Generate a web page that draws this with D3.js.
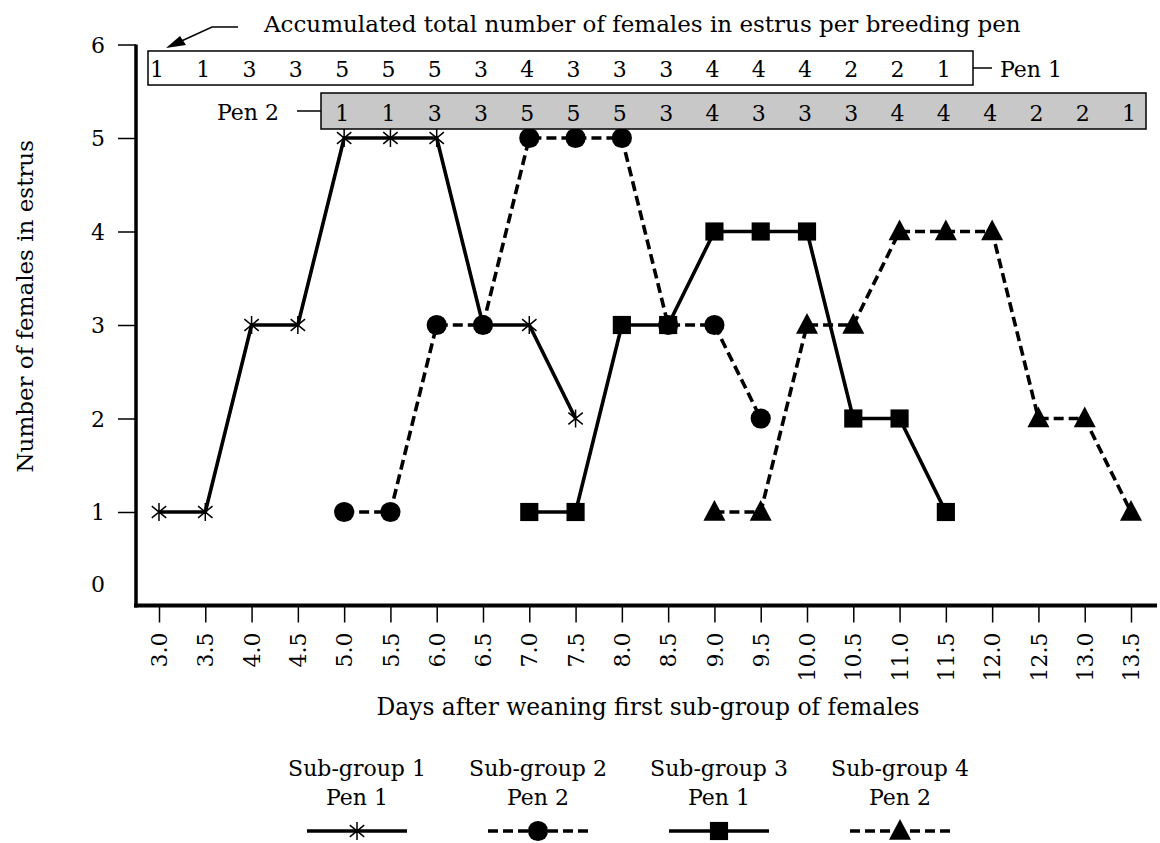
<!DOCTYPE html>
<html>
<head>
<meta charset="utf-8">
<script src="https://cdn.jsdelivr.net/npm/d3@7"></script>
<style>
  body { margin: 0; background: #fff; }
  svg { display: block; font-family: 'DejaVu Serif', serif; }
</style>
</head>
<body>
<svg id="chart" width="1160" height="843"></svg>
<script>
// days on the x axis
const days = [3.0, 3.5, 4.0, 4.5, 5.0, 5.5, 6.0, 6.5, 7.0, 7.5, 8.0, 8.5, 9.0, 9.5, 10.0, 10.5, 11.0, 11.5, 12.0, 12.5, 13.0, 13.5]
const yTicks = [0, 1, 2, 3, 4, 5, 6]

// females in estrus per sub-group
const sg1Days = [3.0, 3.5, 4.0, 4.5, 5.0, 5.5, 6.0, 6.5, 7.0, 7.5]
const sg1Values = [1, 1, 3, 3, 5, 5, 5, 3, 3, 2]
const sg2Days = [5.0, 5.5, 6.0, 6.5, 7.0, 7.5, 8.0, 8.5, 9.0, 9.5]
const sg2Values = [1, 1, 3, 3, 5, 5, 5, 3, 3, 2]
const sg3Days = [7.0, 7.5, 8.0, 8.5, 9.0, 9.5, 10.0, 10.5, 11.0, 11.5]
const sg3Values = [1, 1, 3, 3, 4, 4, 4, 2, 2, 1]
const sg4Days = [9.0, 9.5, 10.0, 10.5, 11.0, 11.5, 12.0, 12.5, 13.0, 13.5]
const sg4Values = [1, 1, 3, 3, 4, 4, 4, 2, 2, 1]

// accumulated totals per breeding pen
const pen1Days = [3.0, 3.5, 4.0, 4.5, 5.0, 5.5, 6.0, 6.5, 7.0, 7.5, 8.0, 8.5, 9.0, 9.5, 10.0, 10.5, 11.0, 11.5]
const pen1Totals = [1, 1, 3, 3, 5, 5, 5, 3, 4, 3, 3, 3, 4, 4, 4, 2, 2, 1]
const pen2Days = [5.0, 5.5, 6.0, 6.5, 7.0, 7.5, 8.0, 8.5, 9.0, 9.5, 10.0, 10.5, 11.0, 11.5, 12.0, 12.5, 13.0, 13.5]
const pen2Totals = [1, 1, 3, 3, 5, 5, 5, 3, 4, 3, 3, 3, 4, 4, 4, 2, 2, 1]

const legendTitles = ['Sub-group 1', 'Sub-group 2', 'Sub-group 3', 'Sub-group 4']
const legendPens = ['Pen 1', 'Pen 2', 'Pen 1', 'Pen 2']

const svg = d3.select('#chart')
const x = d3.scaleLinear().domain([3, 13.5]).range([159, 1131])
const y = d3.scaleLinear().domain([0, 6]).range([605.5, 44.5])
const fontSize = '22px'
const lineWidth = 3.6

// marker shapes
const star = {
  draw: (ctx, size) => {
    const r = Math.sqrt(size) / 2
    ctx.moveTo(0, -r)
    ctx.lineTo(0, r)
    ctx.moveTo(-r * 0.8, -r * 0.65)
    ctx.lineTo(r * 0.8, r * 0.65)
    ctx.moveTo(-r * 0.8, r * 0.65)
    ctx.lineTo(r * 0.8, -r * 0.65)
  }
}
const triangle = {
  draw: (ctx, size) => {
    const w = Math.sqrt(size) / 2
    ctx.moveTo(0, -w * 1.1)
    ctx.lineTo(w, w * 0.8)
    ctx.lineTo(-w, w * 0.8)
    ctx.closePath()
  }
}

const zip = (ds, vs) => ds.map((d, i) => ({ day: d, value: vs[i] }))
const series = [
  { points: zip(sg1Days, sg1Values), dash: null, type: star, size: 324, stroke: true },
  { points: zip(sg2Days, sg2Values), dash: '10,5', type: d3.symbolCircle, size: 320, stroke: false },
  { points: zip(sg3Days, sg3Values), dash: null, type: d3.symbolSquare, size: 330, stroke: false },
  { points: zip(sg4Days, sg4Values), dash: '10,5', type: triangle, size: 484, stroke: false }
]

// axes
const xAxis = svg.append('g')
  .attr('transform', `translate(0,${y(0)})`)
  .call(d3.axisBottom(x).tickValues(days).tickFormat(d3.format('.1f')).tickSize(17))
xAxis.select('.domain').remove()
xAxis.selectAll('.tick line').attr('stroke', '#000').attr('stroke-width', 1.5)
xAxis.selectAll('.tick text')
  .attr('transform', 'rotate(-90)')
  .attr('x', -27)
  .attr('y', 0)
  .attr('dy', '0.35em')
  .attr('text-anchor', 'end')
  .style('font-size', fontSize)
  .style('font-family', 'DejaVu Serif')
  .attr('fill', '#000')

const yAxis = svg.append('g')
  .attr('transform', 'translate(136,0)')
  .call(d3.axisLeft(y).tickValues(yTicks).tickFormat(d3.format('d')).tickSize(18).tickPadding(13))
yAxis.select('.domain').remove()
yAxis.selectAll('.tick line').attr('stroke', '#000').attr('stroke-width', 1.5)
  .filter(d => d === 0).remove()
yAxis.selectAll('.tick text')
  .style('font-size', fontSize)
  .style('font-family', 'DejaVu Serif')
  .attr('fill', '#000')
  .attr('dy', d => d === 0 ? '-0.65em' : '0.35em')

svg.append('line')
  .attr('x1', 136).attr('x2', 136)
  .attr('y1', y(6)).attr('y2', y(0) + 2)
  .attr('stroke', '#000').attr('stroke-width', 3.5)
svg.append('line')
  .attr('x1', 134).attr('x2', 1157)
  .attr('y1', y(0)).attr('y2', y(0))
  .attr('stroke', '#000').attr('stroke-width', 4)

// axis titles
svg.append('text')
  .attr('transform', 'translate(33,140) rotate(-90)')
  .attr('text-anchor', 'end')
  .style('font-size', '23px')
  .text('Number of females in estrus')
svg.append('text')
  .attr('x', 648).attr('y', 715)
  .attr('text-anchor', 'middle')
  .style('font-size', '23.4px')
  .text('Days after weaning first sub-group of females')

// lines
const line = d3.line().x(d => x(d.day)).y(d => y(d.value))
svg.selectAll('path.series')
  .data(series)
  .enter()
  .append('path')
  .attr('class', 'series')
  .attr('d', d => line(d.points))
  .attr('fill', 'none')
  .attr('stroke', '#000')
  .attr('stroke-width', lineWidth)
  .attr('stroke-dasharray', d => d.dash)

// markers
series.forEach(s => {
  const sym = d3.symbol().type(s.type).size(s.size)
  svg.selectAll(null)
    .data(s.points)
    .enter()
    .append('path')
    .attr('transform', d => `translate(${x(d.day)},${y(d.value)})`)
    .attr('d', sym)
    .attr('fill', s.stroke ? 'none' : '#000')
    .attr('stroke', s.stroke ? '#000' : 'none')
    .attr('stroke-width', 1.5)
})

// pen boxes
const drawPen = (ds, totals, box, fill, label) => {
  const g = svg.append('g')
  g.append('rect')
    .attr('x', box[0]).attr('y', box[1])
    .attr('width', box[2] - box[0]).attr('height', box[3] - box[1])
    .attr('fill', fill).attr('stroke', '#000').attr('stroke-width', 1.5)
  g.selectAll('text.total')
    .data(totals)
    .enter()
    .append('text')
    .attr('class', 'total')
    .attr('x', (d, i) => x(ds[i]) - 2)
    .attr('y', box[3] - 8)
    .attr('text-anchor', 'middle')
    .style('font-size', fontSize)
    .text(d => d)
  const my = (box[1] + box[3]) / 2
  if (label === 'Pen 1') {
    g.append('line').attr('x1', box[2]).attr('x2', box[2] + 19)
      .attr('y1', my).attr('y2', my).attr('stroke', '#000').attr('stroke-width', 1.5)
    g.append('text').attr('x', box[2] + 27).attr('y', box[3] - 8)
      .style('font-size', fontSize).text(label)
  } else {
    g.append('line').attr('x1', box[0] - 24).attr('x2', box[0])
      .attr('y1', my).attr('y2', my).attr('stroke', '#000').attr('stroke-width', 1.5)
    g.append('text').attr('x', box[0] - 42).attr('y', box[3] - 9)
      .attr('text-anchor', 'end')
      .style('font-size', fontSize).text(label)
  }
}
drawPen(pen1Days, pen1Totals, [148, 51, 973, 85], '#fff', 'Pen 1')
drawPen(pen2Days, pen2Totals, [321, 93, 1146, 129], '#c8c8c8', 'Pen 2')

// title with arrow
svg.append('text')
  .attr('x', 264).attr('y', 32)
  .style('font-size', '23px')
  .text('Accumulated total number of females in estrus per breeding pen')
svg.append('path')
  .attr('d', 'M238,27H212L182,40.7')
  .attr('fill', 'none').attr('stroke', '#000').attr('stroke-width', 1.5)
svg.append('path')
  .attr('d', 'M166,48L180,36L186,45Z')
  .attr('fill', '#000')

// legend
const legend = svg.append('g')
  .selectAll('g')
  .data(series)
  .enter()
  .append('g')
  .attr('transform', (d, i) => `translate(${357 + i * 181},0)`)
legend.append('text')
  .attr('y', 776).attr('text-anchor', 'middle')
  .style('font-size', fontSize)
  .text((d, i) => legendTitles[i])
legend.append('text')
  .attr('y', 805).attr('text-anchor', 'middle')
  .style('font-size', fontSize)
  .text((d, i) => legendPens[i])
legend.append('line')
  .attr('x1', -50).attr('x2', 50)
  .attr('y1', 831).attr('y2', 831)
  .attr('stroke', '#000').attr('stroke-width', lineWidth)
  .attr('stroke-dasharray', d => d.dash)
legend.append('path')
  .attr('transform', 'translate(0,831)')
  .attr('d', d => d3.symbol().type(d.type).size(d.size)())
  .attr('fill', d => d.stroke ? 'none' : '#000')
  .attr('stroke', d => d.stroke ? '#000' : 'none')
  .attr('stroke-width', 1.5)
</script>
</body>
</html>
